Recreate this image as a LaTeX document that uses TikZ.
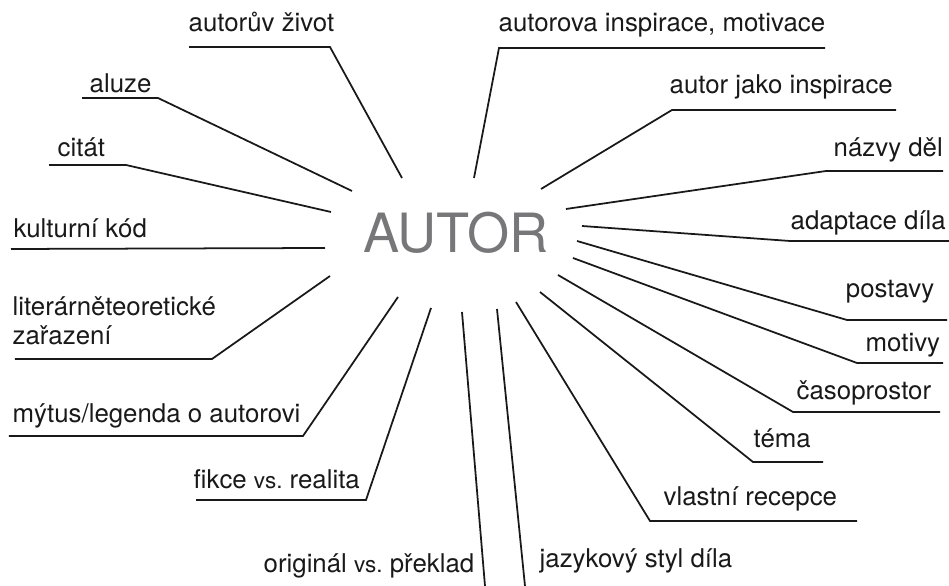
\documentclass[tikz,border=0pt]{standalone}
\usepackage{fontspec}
\setmainfont{TeX Gyre Heros}
\usepackage{tikz}

\definecolor{autorgray}{RGB}{119,119,122}
\newcommand{\versus}{{\fontsize{6.4}{7}\selectfont vs.}}

\begin{document}
\begin{tikzpicture}[
    lbl/.style={anchor=base west, inner sep=0pt, font=\fontsize{7.35}{8.5}\selectfont, text=black!90},
    lblr/.style={lbl, anchor=base east},
    branch/.style={line width=0.5pt, black!90},
    hub/.style={anchor=base, inner sep=0pt, font=\fontsize{15.4}{16}\selectfont, text=autorgray},
]
    \useasboundingbox (0,0) rectangle (9.49,5.86);

    % --- Centre ---
    \node[hub] (autor) at (4.56, 3.33) {AUTOR};

    % --- Left side, top to bottom ---
    \node[lbl] (zivot) at (1.88, 5.54) {autorův život};
    \coordinate (zivot-a)  at (1.89, 5.39);
    \coordinate (zivot-b)  at (3.30, 5.39);
    \coordinate (zivot-in) at (4.02, 4.08);
    \draw[branch] (zivot-a) -- (zivot-b) -- (zivot-in);

    \node[lbl] (aluze) at (0.89, 4.93) {aluze};
    \coordinate (aluze-a)  at (0.82, 4.88);
    \coordinate (aluze-b)  at (1.58, 4.88);
    \coordinate (aluze-in) at (3.52, 3.95);
    \draw[branch] (aluze-a) -- (aluze-b) -- (aluze-in);

    \node[lbl] (citat) at (0.57, 4.29) {citát};
    \coordinate (citat-a)  at (0.49, 4.21);
    \coordinate (citat-b)  at (1.26, 4.21);
    \coordinate (citat-in) at (3.31, 3.74);
    \draw[branch] (citat-a) -- (citat-b) -- (citat-in);

    \node[lbl] (kod) at (0.13, 3.48) {kulturní kód};
    \coordinate (kod-a)  at (0.11, 3.37);
    \coordinate (kod-in) at (3.25, 3.38);
    \draw[branch] (kod-a) -- (kod-in);

    \node[lbl] (zarazeni1) at (0.12, 2.70) {literárněteoretické};
    \node[lbl] (zarazeni2) at (0.12, 2.41) {zařazení};
    \coordinate (zarazeni-a)  at (0.15, 2.27);
    \coordinate (zarazeni-b)  at (2.12, 2.27);
    \coordinate (zarazeni-in) at (3.30, 3.10);
    \draw[branch] (zarazeni-a) -- (zarazeni-b) -- (zarazeni-in);

    \node[lbl] (mytus) at (0.12, 1.63) {mýtus/legenda o autorovi};
    \coordinate (mytus-a)  at (0.09, 1.50);
    \coordinate (mytus-b)  at (3.03, 1.50);
    \coordinate (mytus-in) at (3.98, 2.89);
    \draw[branch] (mytus-a) -- (mytus-b) -- (mytus-in);

    \node[lbl] (fikce) at (1.93, 0.97) {fikce \versus\ realita};
    \coordinate (fikce-a)  at (1.96, 0.86);
    \coordinate (fikce-b)  at (3.66, 0.86);
    \coordinate (fikce-in) at (4.31, 2.78);
    \draw[branch] (fikce-a) -- (fikce-b) -- (fikce-in);

    % --- Bottom ---
    \node[lbl] (preklad) at (2.63, 0.13) {originál \versus\ překlad};
    \coordinate (preklad-b)  at (4.85, 0.00);
    \coordinate (preklad-in) at (4.62, 2.74);
    \draw[branch] (preklad-b) -- (preklad-in);

    \node[lbl] (styl) at (5.39, 0.18) {jazykový styl díla};
    \coordinate (styl-b)  at (5.25, 0.00);
    \coordinate (styl-in) at (4.97, 2.77);
    \draw[branch] (styl-b) -- (styl-in);

    % --- Right side, bottom to top ---
    \node[lbl] (recepce) at (6.63, 0.80) {vlastní recepce};
    \coordinate (recepce-a)  at (8.57, 0.65);
    \coordinate (recepce-b)  at (6.50, 0.65);
    \coordinate (recepce-in) at (5.16, 2.84);
    \draw[branch] (recepce-a) -- (recepce-b) -- (recepce-in);

    \node[lbl] (tema) at (7.53, 1.38) {téma};
    \coordinate (tema-a)  at (8.23, 1.24);
    \coordinate (tema-b)  at (7.53, 1.24);
    \coordinate (tema-in) at (5.40, 2.94);
    \draw[branch] (tema-a) -- (tema-b) -- (tema-in);

    \node[lbl] (casoprostor) at (7.96, 1.86) {časoprostor};
    \coordinate (casoprostor-a)  at (9.40, 1.74);
    \coordinate (casoprostor-b)  at (7.93, 1.74);
    \coordinate (casoprostor-in) at (5.58, 3.11);
    \draw[branch] (casoprostor-a) -- (casoprostor-b) -- (casoprostor-in);

    \node[lbl] (motivy) at (8.65, 2.34) {motivy};
    \coordinate (motivy-a)  at (9.43, 2.23);
    \coordinate (motivy-b)  at (8.57, 2.23);
    \coordinate (motivy-in) at (5.73, 3.28);
    \draw[branch] (motivy-a) -- (motivy-b) -- (motivy-in);

    \node[lblr] (postavy) at (9.35, 2.88) {postavy};
    \coordinate (postavy-a)  at (9.47, 2.66);
    \coordinate (postavy-b)  at (8.47, 2.66);
    \coordinate (postavy-in) at (5.77, 3.45);
    \draw[branch] (postavy-a) -- (postavy-b) -- (postavy-in);

    \node[lbl] (adaptace) at (7.90, 3.56) {adaptace díla};
    \coordinate (adaptace-a)  at (9.49, 3.45);
    \coordinate (adaptace-b)  at (7.90, 3.45);
    \coordinate (adaptace-in) at (5.82, 3.60);
    \draw[branch] (adaptace-a) -- (adaptace-b) -- (adaptace-in);

    \node[lbl] (nazvy) at (8.33, 4.29) {názvy děl};
    \coordinate (nazvy-a)  at (9.43, 4.15);
    \coordinate (nazvy-b)  at (8.26, 4.15);
    \coordinate (nazvy-in) at (5.66, 3.77);
    \draw[branch] (nazvy-a) -- (nazvy-b) -- (nazvy-in);

    \node[lbl] (jako) at (6.69, 4.92) {autor jako inspirace};
    \coordinate (jako-a)  at (8.96, 4.76);
    \coordinate (jako-b)  at (6.72, 4.76);
    \coordinate (jako-in) at (5.41, 3.97);
    \draw[branch] (jako-a) -- (jako-b) -- (jako-in);

    \node[lbl] (inspirace) at (4.98, 5.54) {autorova inspirace, motivace};
    \coordinate (inspirace-a)  at (8.25, 5.38);
    \coordinate (inspirace-b)  at (4.99, 5.38);
    \coordinate (inspirace-in) at (4.74, 4.08);
    \draw[branch] (inspirace-a) -- (inspirace-b) -- (inspirace-in);

\end{tikzpicture}
\end{document}
